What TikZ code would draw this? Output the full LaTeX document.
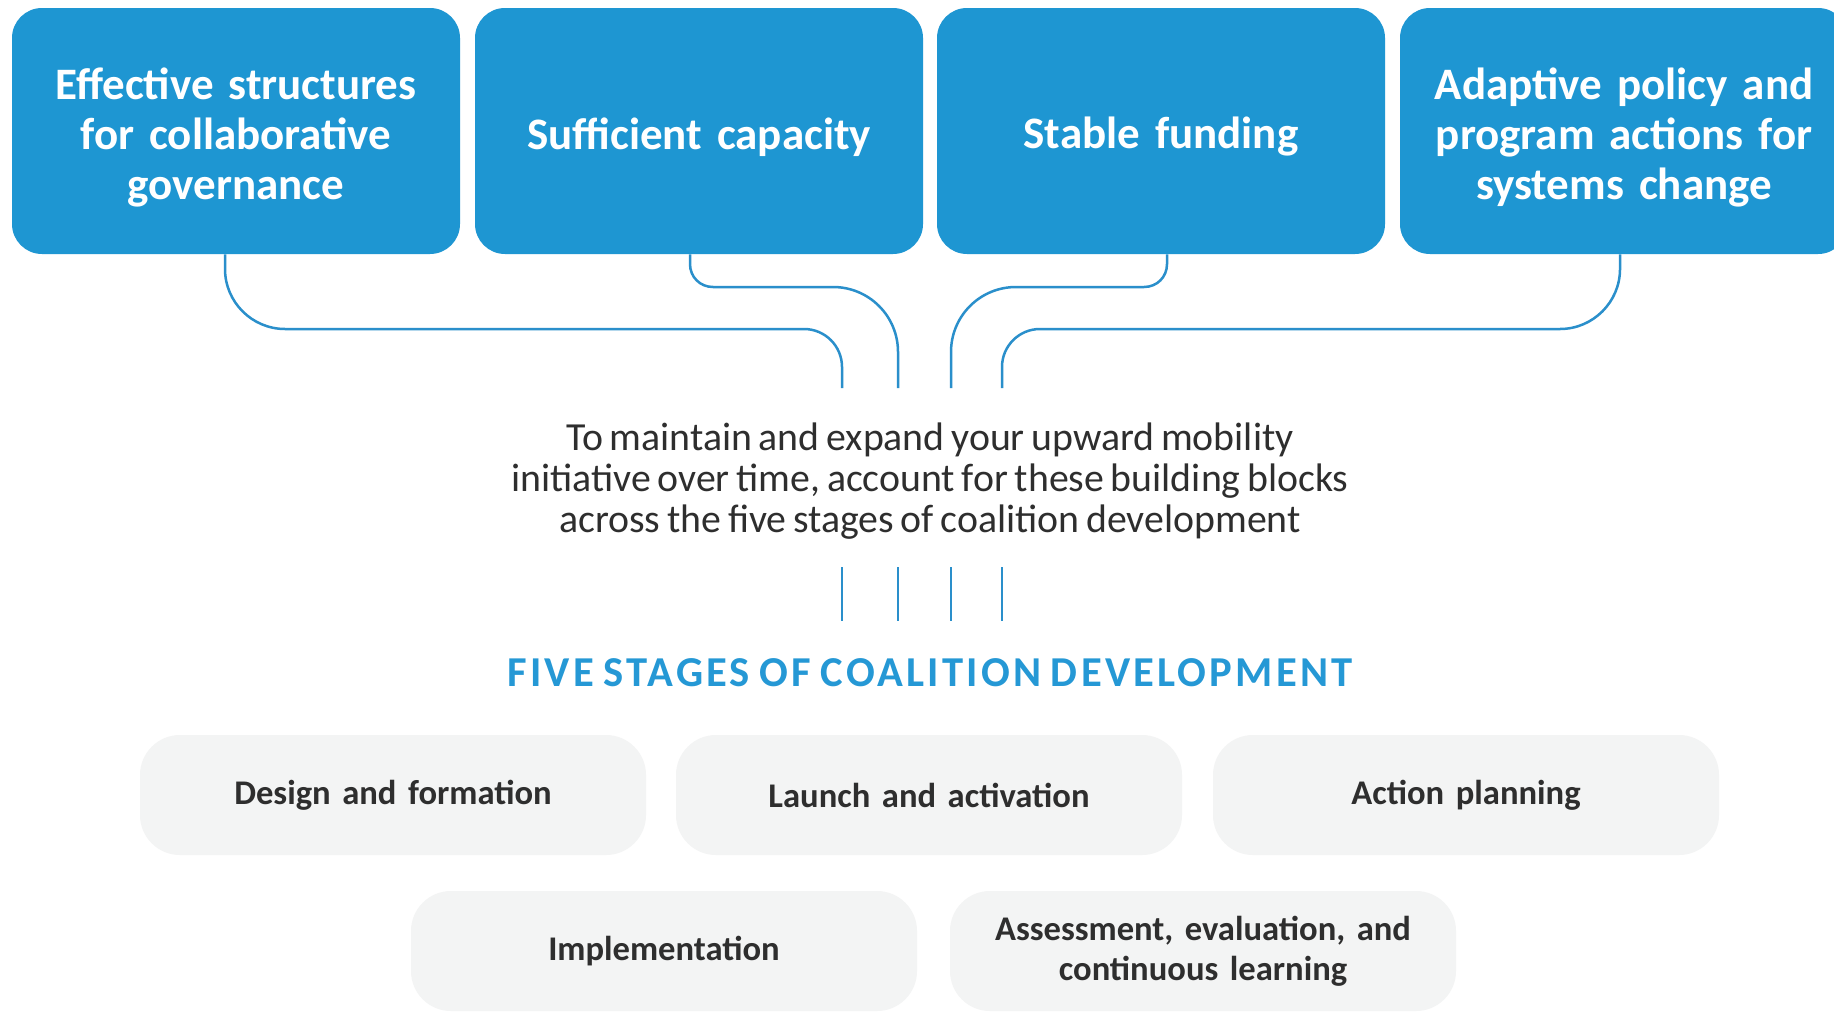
\documentclass[tikz,border=0pt]{standalone}
\usepackage{fontspec}
\setmainfont{Carlito}[WordSpace=0.75]
\usetikzlibrary{calc}
\definecolor{boxblue}{HTML}{1E96D2}
\definecolor{lineblue}{HTML}{2A8FCB}
\definecolor{titleblue}{HTML}{2598D5}
\definecolor{stagegray}{HTML}{F3F4F4}
\definecolor{textdark}{HTML}{2E2E2E}
\begin{document}
\begin{tikzpicture}[x=0.5pt,y=-0.5pt,
  topbox/.style={fill=boxblue, rounded corners=15pt, minimum width=224pt, minimum height=123pt,
    inner sep=0pt},
  toptext/.style={text width=210pt, align=center, inner sep=0pt, text=white,
    font=\bfseries\fontsize{22.5}{25}\selectfont, yshift=-3pt},
  stagebox/.style={fill=stagegray, rounded corners=20pt, minimum width=253pt, minimum height=60pt,
    text width=240pt, align=center, inner sep=0pt, text=textdark,
    font=\bfseries\fontsize{17.3}{20}\selectfont},
  conn/.style={draw=lineblue, line width=1.25pt}]
\useasboundingbox (0,0) rectangle (1834,1012);
\fill[white] (0,0) rectangle (1834,1012);

% top building blocks
\node[topbox, label={[toptext]center:{Effective structures\\for collaborative\\governance}}] (b1) at (236,131) {};
\node[topbox, label={[toptext]center:{Sufficient capacity}}] (b2) at (699,131) {};
\node[topbox, label={[toptext]center:{Stable funding}}] (b3) at (1161,131) {};
\node[topbox, label={[toptext]center:{Adaptive policy and\\program actions for\\systems change}}] (b4) at (1624,131) {};

% connector ends
\coordinate (v1) at (842,388);
\coordinate (v2) at (898,388);
\coordinate (v3) at (951,388);
\coordinate (v4) at (1002,388);

\draw[conn] ($(b1.south)+(-11,0)$) -- (225,269) .. controls (225,302) and (252,329) .. (285,329)
  -- (804,329) .. controls (825,329) and (842,346) .. (842,367) -- (v1);
\draw[conn] ($(b2.south)+(-9,0)$) -- (690,264) .. controls (690,277) and (700,287) .. (713,287)
  -- (833,287) .. controls (869,287) and (898,316) .. (898,352) -- (v2);
\draw[conn] ($(b3.south)+(6,0)$) -- (1167,264) .. controls (1167,277) and (1157,287) .. (1144,287)
  -- (1016,287) .. controls (980,287) and (951,316) .. (951,352) -- (v3);
\draw[conn] ($(b4.south)+(-4,0)$) -- (1620,269) .. controls (1620,302) and (1593,329) .. (1560,329)
  -- (1040,329) .. controls (1019,329) and (1002,346) .. (1002,367) -- (v4);

% middle text
\node[text=textdark, align=center, font=\fontsize{19.9}{20.5}\selectfont] (mid) at (930,481)
  {To maintain and expand your upward mobility\\initiative over time, account for these building blocks\\across the five stages of coalition development};

% lower short lines
\coordinate (w1t) at (842,567); \coordinate (w1b) at (842,621);
\coordinate (w2t) at (898,567); \coordinate (w2b) at (898,621);
\coordinate (w3t) at (951,567); \coordinate (w3b) at (951,621);
\coordinate (w4t) at (1002,567); \coordinate (w4b) at (1002,621);
\draw[conn] (w1t) -- (w1b);
\draw[conn] (w2t) -- (w2b);
\draw[conn] (w3t) -- (w3b);
\draw[conn] (w4t) -- (w4b);

% title
\node[text=titleblue, font=\bfseries\fontsize{21.3}{24}\selectfont\addfontfeature{LetterSpace=7.5}] (title) at (930,673)
  {FIVE STAGES OF COALITION DEVELOPMENT};

% stages
\node[stagebox] (s1) at (393,795) {Design and formation};
\node[stagebox] (s2) at (929,795) {Launch and activation};
\node[stagebox] (s3) at (1466,795) {Action planning};
\node[stagebox] (s4) at (664,951) {Implementation};
\node[stagebox] (s5) at (1203,951) {Assessment, evaluation, and\\continuous learning};
\end{tikzpicture}
\end{document}
